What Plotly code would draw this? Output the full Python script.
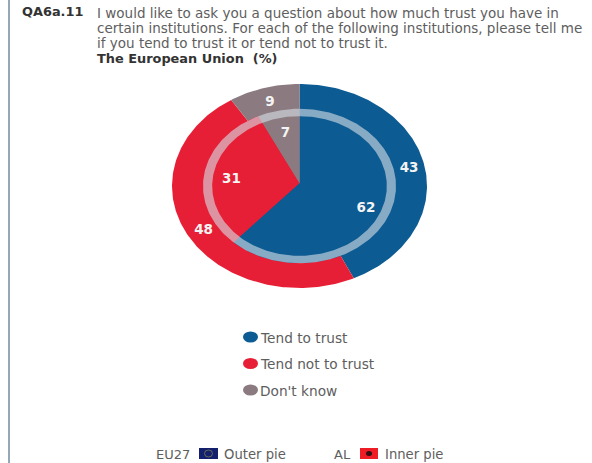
import numpy as np
import plotly.graph_objects as go

W, H = 592, 463

categories = ["Tend to trust", "Tend not to trust", "Don't know"]
eu27_values = [43, 48, 9]
al_values = [62, 31, 7]
colors = ["#0c5b92", "#e71f36", "#8b7b80"]

question_code = "QA6a.11"
question_lines = [
    "I would like to ask you a question about how much trust you have in",
    "certain institutions. For each of the following institutions, please tell me",
    "if you tend to trust it or tend not to trust it.",
]
subtitle = "The European Union  (%)"

OUTER_R = 1.0
RING_OUT, RING_IN = 0.757, 0.685
INNER_R = RING_OUT
LABEL_NUDGE = (0.01, -0.022)  # optical centring of the white numbers


def point(share, r):
    """Clockwise from twelve o'clock; share is a percentage of the full turn."""
    a = np.asarray(share) / 100 * 2 * np.pi
    return r * np.sin(a), r * np.cos(a)


def add_pie(fig, values, radius, label_r, apex_y=0.0):
    start = 0
    lx, ly = [], []
    for value, color, name in zip(values, colors, categories):
        t = np.linspace(start, start + value, max(int(value * 4), 8))
        ax, ay = point(t, radius)
        fig.add_trace(go.Scatter(
            x=np.r_[0, ax, 0], y=np.r_[apex_y, ay, apex_y], mode="lines", fill="toself",
            fillcolor=color, line=dict(width=0), name=name,
            showlegend=False, hoverinfo="name",
        ))
        mx, my = point(start + value / 2, label_r)
        lx.append(float(mx) + LABEL_NUDGE[0])
        ly.append(float(my) + LABEL_NUDGE[1])
        start += value
    fig.add_trace(go.Scatter(
        x=lx, y=ly, mode="text", text=[str(v) for v in values],
        textposition="middle center", showlegend=False, hoverinfo="skip",
        textfont=dict(family="DejaVu Sans", size=13.5, color="#f4f4f4", weight="bold"),
    ))


fig = go.Figure()
add_pie(fig, eu27_values, OUTER_R, 0.87)
add_pie(fig, al_values, INNER_R, 0.55, apex_y=0.03)

# translucent band separating the two pies
t = np.linspace(0, 100, 400)
ox, oy = point(t, RING_OUT)
ix, iy = point(t[::-1], RING_IN)
fig.add_trace(go.Scatter(
    x=np.r_[ox, ix], y=np.r_[oy, iy], mode="lines", fill="toself",
    fillcolor="rgba(213,221,229,0.62)", line=dict(width=0),
    showlegend=False, hoverinfo="skip",
))


def px(x):
    return x / W


def py(y):
    return 1 - y / H


def note(x, y, text, size=13.5, color="#5e5e5e", family="DejaVu Sans"):
    return dict(
        x=px(x), y=py(y), xref="paper", yref="paper", text=text, showarrow=False,
        xanchor="left", yanchor="middle", align="left",
        font=dict(family=family, size=size, color=color),
    )


annotations = [note(20, 11, f"<b>{question_code}</b>", 12.9, "#333333")]
for y, line in zip((13, 28, 43), question_lines):
    annotations.append(note(95, y, line))
annotations.append(note(95, 59, f"<b>{subtitle}</b>", 12.9, "#333333"))
for y, name in zip((337.5, 364, 390.5), categories):
    annotations.append(note(258, y, name, 13.7))
annotations += [
    note(154, 454, "EU27", 13),
    note(222, 454, "Outer pie", 13.2),
    note(332, 454, "AL", 13),
    note(383, 454, "Inner pie", 13.2),
]


def paper_shape(kind, x0, y0, x1, y1, color, line=None):
    return dict(
        type=kind, xref="paper", yref="paper", x0=px(x0), x1=px(x1),
        y0=py(y0), y1=py(y1), fillcolor=color, line=line or dict(width=0),
    )


shapes = [paper_shape("rect", 8, 0, 10, 463, "#96a7b6")]
for y, color in zip((337, 363.5, 390), colors):
    shapes.append(paper_shape("circle", 243, y - 5.5, 258, y + 5.5, color))
shapes += [
    paper_shape("rect", 199, 448, 218, 459, "#12206e"),
    paper_shape("circle", 204.5, 450, 212.5, 457, "rgba(0,0,0,0)",
                dict(width=0.7, color="#8c8a50")),
    paper_shape("rect", 360, 448, 378, 459, "#ee1c25"),
    paper_shape("circle", 366, 451, 372, 456, "#301010"),
]

fig.update_layout(
    width=W, height=H, margin=dict(l=0, r=0, t=0, b=0), autosize=False,
    paper_bgcolor="white", plot_bgcolor="white", showlegend=False,
    annotations=annotations, shapes=shapes,
    xaxis=dict(domain=[px(172), px(427)], range=[-1, 1], visible=False, fixedrange=True),
    yaxis=dict(domain=[py(288), py(84)], range=[-1, 1], visible=False, fixedrange=True),
)

fig.write_html("out.html", config=dict(displayModeBar=False))
